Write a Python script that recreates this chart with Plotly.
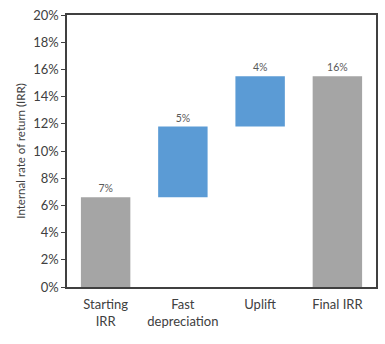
import plotly.graph_objects as go

categories = ["Starting<br>IRR", "Fast<br>depreciation", "Uplift", "Final IRR"]
steps = [6.6, 5.2, 3.7, 15.5]
kinds = ["total", "delta", "delta", "total"]
labels = ["7%", "5%", "4%", "16%"]
y_ticks = [0, 2, 4, 6, 8, 10, 12, 14, 16, 18, 20]

GRAY = "#A5A5A5"
BLUE = "#5B9BD5"

bases = []
running = 0.0
for v, k in zip(steps, kinds):
    if k == "total":
        bases.append(0.0)
        running = v
    else:
        bases.append(running)
        running += v

colors = [GRAY if k == "total" else BLUE for k in kinds]

font_family = "Lato, 'Noto Sans', sans-serif"

fig = go.Figure(go.Bar(
    x=categories,
    y=steps,
    base=bases,
    marker=dict(color=colors, line=dict(width=0)),
    width=0.64,
    text=labels,
    textposition="outside",
    cliponaxis=False,
    textfont=dict(size=10.5, color="#595959", family=font_family),
    hoverinfo="skip",
))

fig.update_layout(
    width=385, height=344,
    margin=dict(l=67, r=7, t=15, b=57),
    plot_bgcolor="white",
    paper_bgcolor="white",
    showlegend=False,
    font=dict(family=font_family, color="#404040", size=13),
    bargap=0.36,
)
fig.update_xaxes(
    showline=True, linecolor="#404040", linewidth=1.5, mirror=True,
    ticks="", tickfont=dict(size=13, color="#404040"),
    ticklabelstandoff=5,
    showgrid=False,
)
fig.update_yaxes(
    range=[0, 20], tickvals=y_ticks, ticktext=[f"{t}%" for t in y_ticks],
    showline=True, linecolor="#404040", linewidth=1.5, mirror=True,
    ticks="outside", ticklen=4, tickcolor="#404040",
    tickfont=dict(size=13, color="#404040"),
    showgrid=False, zeroline=False,
    title=dict(text="Internal rate of return (IRR)", font=dict(size=11.5, color="#404040"), standoff=5),
)

fig.write_html("out.html")
